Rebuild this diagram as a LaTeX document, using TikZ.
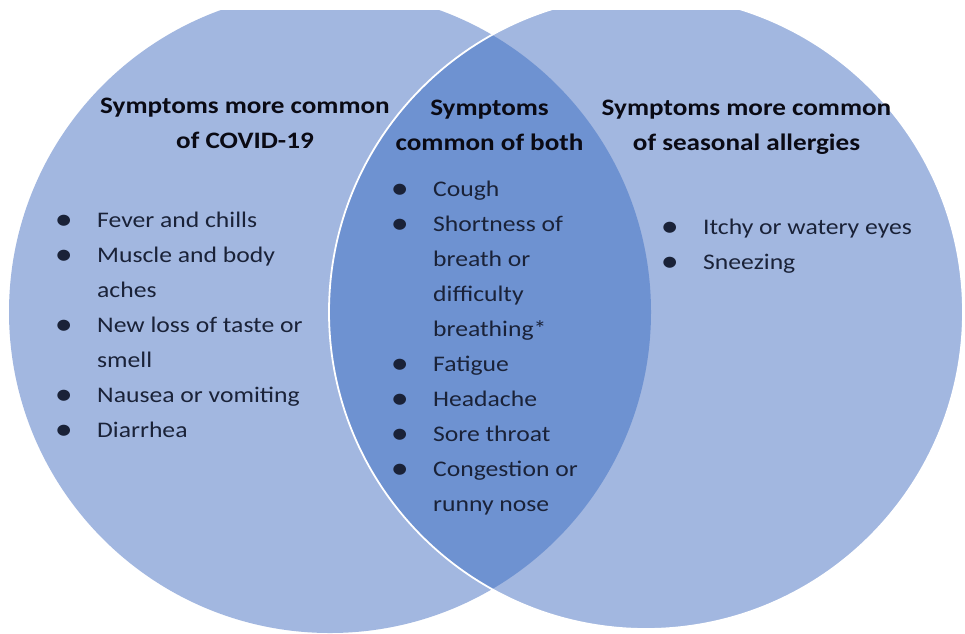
\documentclass[tikz,border=0pt]{standalone}
\usepackage{graphicx}
\usepackage{fontspec}
\setmainfont{Carlito}[FakeStretch=1.15]
\definecolor{vlight}{RGB}{162,183,224}
\definecolor{vdark}{RGB}{110,146,209}
\definecolor{headc}{RGB}{10,10,20}
\definecolor{itemc}{RGB}{26,34,56}
\newcommand\mybul{\makebox[41.4pt][l]{\hspace{-1pt}\raisebox{-2pt}{\scalebox{1.4}{\textbullet}}}}
\begin{document}
\begin{tikzpicture}[x=1pt,y=-1pt,
  head/.style={anchor=base, inner sep=0pt, text=headc, font=\fontsize{23.6}{35}\selectfont\bfseries},
  items/.style={anchor=base west, inner sep=0pt, text=itemc, font=\fontsize{22.3}{35}\selectfont}]
\useasboundingbox (0,0) rectangle (965,633);
\fill[white] (0,0) rectangle (965,633);
\coordinate (cl) at (330,312);
\coordinate (cr) at (646,312);
\begin{scope}
  \clip (0,10) rectangle (965,633);
  \fill[vlight] (cl) circle [radius=321pt];
  \fill[vlight] (cr) circle [radius=317pt];
  \begin{scope}
    \clip (cl) circle [radius=321pt];
    \fill[vdark] (cr) circle [radius=317pt];
  \end{scope}
  \draw[white, line width=1.8pt] (cr) circle [radius=317pt];
\end{scope}
% headings
\node[head] (hcovid) at (245,113) {\begin{tabular}[t]{@{}c@{}}Symptoms more common\\of COVID-19\end{tabular}};
\node[head] (hboth) at (489.5,115) {\begin{tabular}[t]{@{}c@{}}Symptoms\\common of both\end{tabular}};
\node[head] (hallergy) at (746.5,115) {\begin{tabular}[t]{@{}c@{}}Symptoms more common\\of seasonal allergies\end{tabular}};
% lists
\node[items] (lcovid) at (55.6,227) {\begin{tabular}[t]{@{}l@{}l@{}}
\mybul&Fever and chills\\
\mybul&Muscle and body\\
&aches\\
\mybul&New loss of taste or\\
&smell\\
\mybul&Nausea or vomiting\\
\mybul&Diarrhea
\end{tabular}};
\node[items] (lboth) at (391.6,196.5) {\begin{tabular}[t]{@{}l@{}l@{}}
\mybul&Cough\\
\mybul&Shortness of\\
&breath or\\
&difficulty\\
&breathing*\\
\mybul&Fatigue\\
\mybul&Headache\\
\mybul&Sore throat\\
\mybul&Congestion or\\
&runny nose
\end{tabular}};
\node[items] (lallergy) at (661.6,234) {\begin{tabular}[t]{@{}l@{}l@{}}
\mybul&Itchy or watery eyes\\
\mybul&Sneezing
\end{tabular}};
\end{tikzpicture}
\end{document}
